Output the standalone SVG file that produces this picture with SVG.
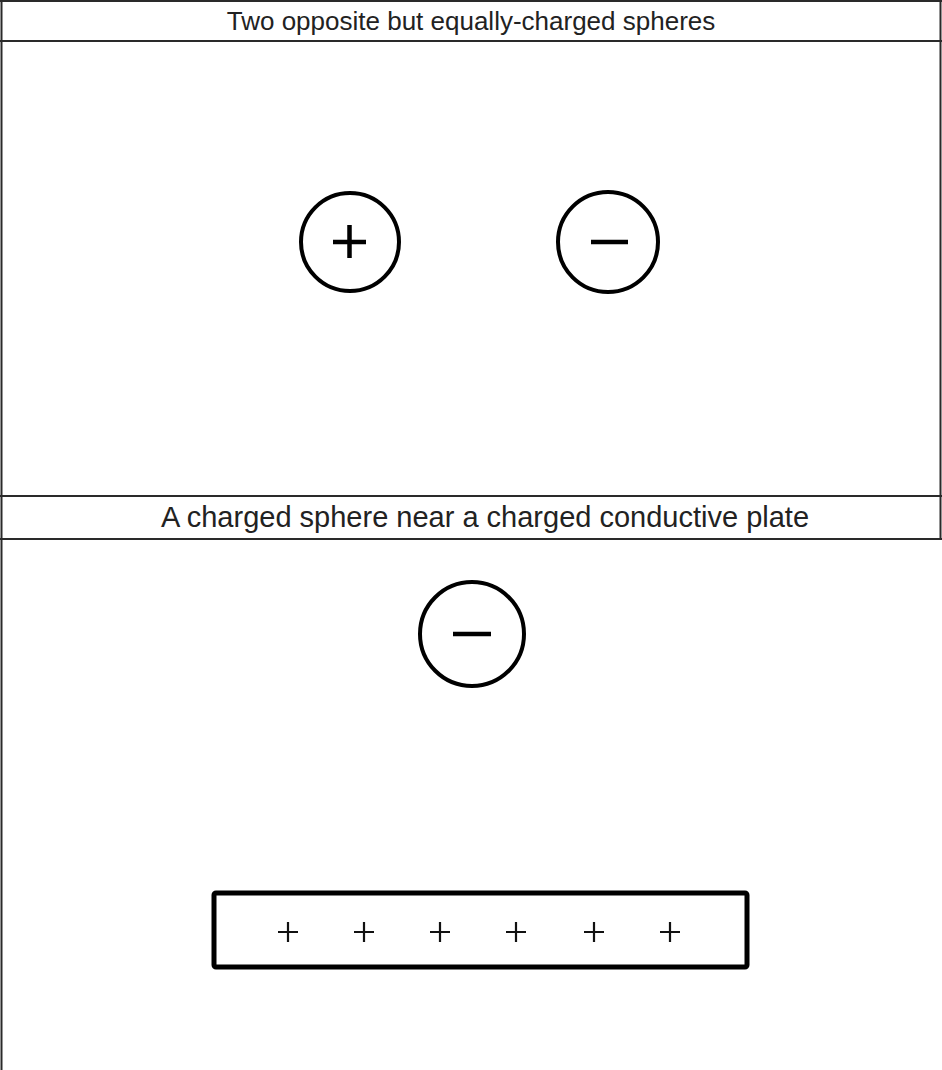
<svg xmlns="http://www.w3.org/2000/svg" width="942" height="1070" viewBox="0 0 942 1070">
  <style>
    .grid { stroke: #2a2a2a; stroke-width: 2; fill: none; }
    .title { font-family: "Liberation Sans", Arial, sans-serif; font-size: 26px; fill: #222; text-anchor: middle; }
    .title.big { font-size: 29px; }
    .sphere { fill: #fff; stroke: #000; stroke-width: 4; }
    .sign { stroke: #000; stroke-width: 4.5; fill: none; }
    .plate { fill: #fff; stroke: #000; stroke-width: 5; }
    .psign { stroke: #111; stroke-width: 2.2; fill: none; }
  </style>
  <rect width="942" height="1070" fill="#fff"/>
  <g id="table">
    <line class="grid" x1="1.5" y1="0" x2="1.5" y2="1070"/>
    <line class="grid" x1="0" y1="1" x2="942" y2="1"/>
    <line class="grid" x1="0" y1="41" x2="942" y2="41"/>
    <line class="grid" x1="0" y1="496" x2="942" y2="496"/>
    <line class="grid" x1="0" y1="539" x2="942" y2="539"/>
    <line class="grid" x1="940.5" y1="0" x2="940.5" y2="539"/>
  </g>
  <g id="title1">
    <text class="title" x="471" y="30">Two opposite but equally-charged spheres</text>
  </g>
  <g id="title2">
    <text class="title big" x="485" y="527">A charged sphere near a charged conductive plate</text>
  </g>
  <g id="sphere-positive">
    <circle class="sphere" cx="350" cy="242" r="49"/>
    <path class="sign" d="M333 242 H366 M349.5 225 V258"/>
  </g>
  <g id="sphere-negative-1">
    <circle class="sphere" cx="608" cy="242" r="50"/>
    <path class="sign" d="M591 242 H628"/>
  </g>
  <g id="sphere-negative-2">
    <circle class="sphere" cx="472" cy="634" r="52"/>
    <path class="sign" d="M453 634 H491"/>
  </g>
  <g id="plate">
    <rect class="plate" x="214" y="893" width="533" height="74" rx="2"/>
    <path class="psign" d="M278 932 H298 M288 922 V942"/>
    <path class="psign" d="M354 932 H374 M364 922 V942"/>
    <path class="psign" d="M430 932 H450 M440 922 V942"/>
    <path class="psign" d="M506 932 H526 M516 922 V942"/>
    <path class="psign" d="M584 932 H604 M594 922 V942"/>
    <path class="psign" d="M660 932 H680 M670 922 V942"/>
  </g>
</svg>
